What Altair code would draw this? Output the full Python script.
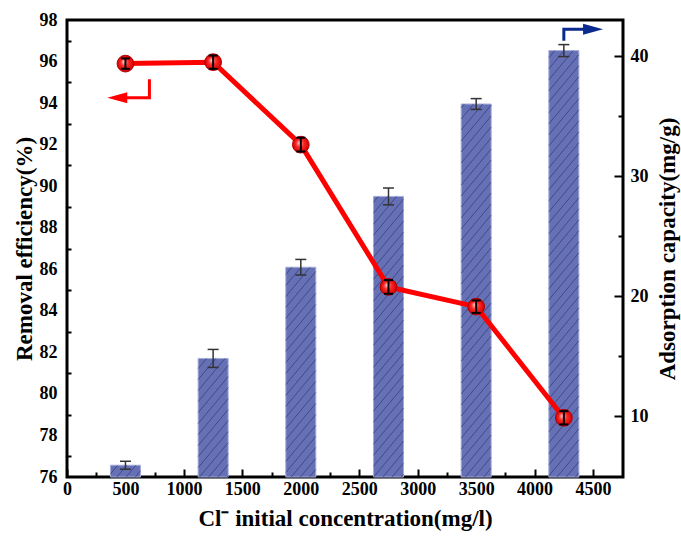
import math
import altair as alt
import pandas as pd

# ---------------- data ----------------
conc = [500, 1250, 2000, 2750, 3500, 4250]
removal = [95.9, 95.97, 92.0, 85.15, 84.2, 78.85]
removal_err = [0.25, 0.32, 0.33, 0.33, 0.3, 0.32]
capacity = [5.9, 14.8, 22.4, 28.3, 36.0, 40.45]
capacity_err = [0.33, 0.75, 0.65, 0.7, 0.45, 0.5]

x_major = [0, 500, 1000, 1500, 2000, 2500, 3000, 3500, 4000, 4500]
x_minor = [250, 750, 1250, 1750, 2250, 2750, 3250, 3750, 4250]
left_labels = [76, 78, 80, 82, 84, 86, 88, 90, 92, 94, 96, 98]
left_minor = [77, 79, 81, 83, 85, 87, 89, 91, 93, 95, 97]
right_labels = [10, 20, 30, 40]
right_minor = [15, 25, 35]

# annotation arrows (data coordinates)
red_arrow_x = [705, 705, 430]
red_arrow_y = [95.15, 94.26, 94.26]
blue_arrow_x = [4250, 4250, 4500]
blue_arrow_y = [41.28, 42.23, 42.23]

# ---------------- layout ----------------
W, H = 556, 457
XMAX = 4756
LMIN, LMAX = 76, 98
RMIN, RMAX = 4.92, 43
FONT = "Liberation Serif"
BAR_PX = 30

df = pd.DataFrame({
    "conc": conc,
    "removal": removal,
    "rlo": [v - e for v, e in zip(removal, removal_err)],
    "rhi": [v + e for v, e in zip(removal, removal_err)],
    "cap": capacity,
    "clo": [v - e for v, e in zip(capacity, capacity_err)],
    "chi": [v + e for v, e in zip(capacity, capacity_err)],
})

# hatch pattern segments derived from bars
kx = W / XMAX
ky = H / (RMAX - RMIN)
slope, step = 1.2, 11.0
hrows = []
for c, v in zip(conc, capacity):
    xl = c * kx - BAR_PX / 2
    xr = c * kx + BAR_PX / 2
    top = (RMAX - v) * ky
    kmin = top + slope * xl
    kmax = H + slope * xr
    k = math.ceil(kmin / step) * step
    while k < kmax:
        x1, y1 = xl, k - slope * xl
        x2, y2 = xr, k - slope * xr
        if y1 > H:
            x1, y1 = (k - H) / slope, H
        if y2 < top:
            x2, y2 = (k - top) / slope, top
        if x2 > x1 + 0.5:
            hrows.append({"hx1": x1 / kx, "hx2": x2 / kx,
                          "hy1": RMAX - y1 / ky, "hy2": RMAX - y2 / ky})
        k += step
hatch = pd.DataFrame(hrows)

red_df = pd.DataFrame({"x": red_arrow_x, "y": red_arrow_y, "o": [0, 1, 2]})
blue_df = pd.DataFrame({"x": blue_arrow_x, "y": blue_arrow_y, "o": [0, 1, 2]})


def X(field, axis=None):
    return alt.X(field, type="quantitative",
                 scale=alt.Scale(domain=[0, XMAX], nice=False, zero=False, padding=0), axis=axis)


def YL(field, axis=None):
    return alt.Y(field, type="quantitative",
                 scale=alt.Scale(domain=[LMIN, LMAX], nice=False, zero=False, padding=0), axis=axis)


def YR(field, axis=None):
    return alt.Y(field, type="quantitative",
                 scale=alt.Scale(domain=[RMIN, RMAX], nice=False, zero=False, padding=0), axis=axis)


x_axis_main = alt.Axis(orient="bottom", values=x_major, ticks=False, tickSize=0, domain=False,
                       grid=False, labelPadding=3, labelFlush=False, labelOverlap=False,
                       format="d", title="Cl\u207b initial concentration(mg/l)", titlePadding=9)
left_axis_main = alt.Axis(orient="left", values=left_labels, ticks=False, tickSize=0, domain=False,
                          grid=False, labelPadding=10, labelFlush=False, labelOverlap=False,
                          title="Removal efficiency(%)", titlePadding=3)
right_axis_main = alt.Axis(orient="right", values=right_labels, ticks=False, tickSize=0, domain=False,
                           grid=False, labelPadding=7, labelFlush=False, labelOverlap=False,
                           title="Adsorption capacity(mg/g)", titleAngle=270, titleBaseline="top",
                           titlePadding=8)


def tick_axis(orient, offset, values, size):
    return alt.Axis(orient=orient, offset=offset, values=values, labels=False, domain=False,
                    grid=False, title=None, ticks=True, tickSize=size, tickWidth=2,
                    tickColor="black")


base = alt.Chart(df)

# inward ticks (invisible carrier layers)
t_xmaj = base.mark_point(opacity=0).encode(x=X("conc", tick_axis("top", -H, x_major, 8)), y=YL("removal"))
t_xmin = base.mark_point(opacity=0).encode(x=X("conc", tick_axis("top", -H, x_minor, 5)), y=YL("removal"))
t_lmin = base.mark_point(opacity=0).encode(x=X("conc"), y=YL("removal", tick_axis("right", -W, left_minor, 4)))
t_rmaj = base.mark_point(opacity=0).encode(x=X("conc"), y=YR("cap", tick_axis("left", -W, right_labels, 9)))
t_rmin = base.mark_point(opacity=0).encode(x=X("conc"), y=YR("cap", tick_axis("left", -W, right_minor, 5)))

bars = base.mark_bar(size=BAR_PX, fill="#6570B5", stroke="#A6ADDB", strokeWidth=1).encode(
    x=X("conc", x_axis_main), y=YR("cap", right_axis_main), y2=alt.datum(RMIN))

hatch_l = alt.Chart(hatch).mark_rule(color="#2E3775", strokeWidth=0.9, opacity=0.75).encode(
    x=X("hx1"), x2="hx2", y=YR("hy1"), y2="hy2")

bar_err = base.mark_rule(color="#333333", strokeWidth=1.5).encode(x=X("conc"), y=YR("clo"), y2="chi")
bar_cap_lo = base.mark_tick(orient="horizontal", size=11, thickness=1.5, color="#333333", opacity=1).encode(
    x=X("conc"), y=YR("clo"))
bar_cap_hi = base.mark_tick(orient="horizontal", size=11, thickness=1.5, color="#333333", opacity=1).encode(
    x=X("conc"), y=YR("chi"))

line = base.mark_line(color="#FF0000", strokeWidth=5).encode(x=X("conc"), y=YL("removal", left_axis_main))

grad = alt.RadialGradient(
    gradient="radial",
    stops=[alt.GradientStop(color="#FFD6D6", offset=0),
           alt.GradientStop(color="#FF2A2A", offset=0.45),
           alt.GradientStop(color="#D00000", offset=1)],
    x1=0.4, y1=0.38, r1=0, x2=0.5, y2=0.5, r2=0.5)
points = base.mark_point(shape="circle", filled=True, size=280, fill=grad, stroke="#B00000",
                         strokeWidth=1, opacity=1).encode(x=X("conc"), y=YL("removal"))

pt_err = base.mark_rule(color="black", strokeWidth=2).encode(x=X("conc"), y=YL("rlo"), y2="rhi")
pt_cap_lo = base.mark_tick(orient="horizontal", size=9, thickness=2, color="black", opacity=1).encode(
    x=X("conc"), y=YL("rlo"))
pt_cap_hi = base.mark_tick(orient="horizontal", size=9, thickness=2, color="black", opacity=1).encode(
    x=X("conc"), y=YL("rhi"))

red_line = alt.Chart(red_df).mark_line(color="#FF0000", strokeWidth=3).encode(
    x=X("x"), y=YL("y"), order="o")
red_head = alt.Chart(red_df.iloc[[2]]).mark_point(
    shape="M -1 0 L 1 -0.55 L 1 0.55 Z", size=400, filled=True, fill="#FF0000", opacity=1,
    strokeWidth=0).encode(x=X("x"), y=YL("y"))

blue_line = alt.Chart(blue_df).mark_line(color="#0A2A8F", strokeWidth=3).encode(
    x=X("x"), y=YR("y"), order="o")
blue_head = alt.Chart(blue_df.iloc[[2]]).mark_point(
    shape="M 1 0 L -1 -0.55 L -1 0.55 Z", size=400, filled=True, fill="#0A2A8F", opacity=1,
    strokeWidth=0).encode(x=X("x"), y=YR("y"))

chart = alt.layer(
    t_xmaj, t_xmin, t_lmin, t_rmaj, t_rmin,
    bars, hatch_l, bar_err, bar_cap_lo, bar_cap_hi,
    line, points, pt_err, pt_cap_lo, pt_cap_hi,
    red_line, red_head, blue_line, blue_head,
).resolve_scale(y="independent").resolve_axis(x="independent", y="independent").properties(
    width=W, height=H,
    autosize=alt.AutoSizeParams(type="none"),
    padding={"left": 67, "top": 20, "right": 58, "bottom": 59},
).configure_axis(
    labelFont=FONT, labelFontSize=18, labelFontWeight="bold", labelColor="black",
    titleFont=FONT, titleFontSize=23, titleFontWeight="bold", titleColor="black",
).configure_view(stroke="black", strokeWidth=3)

chart.save("out.html", embed_options={"renderer": "svg", "actions": False})
